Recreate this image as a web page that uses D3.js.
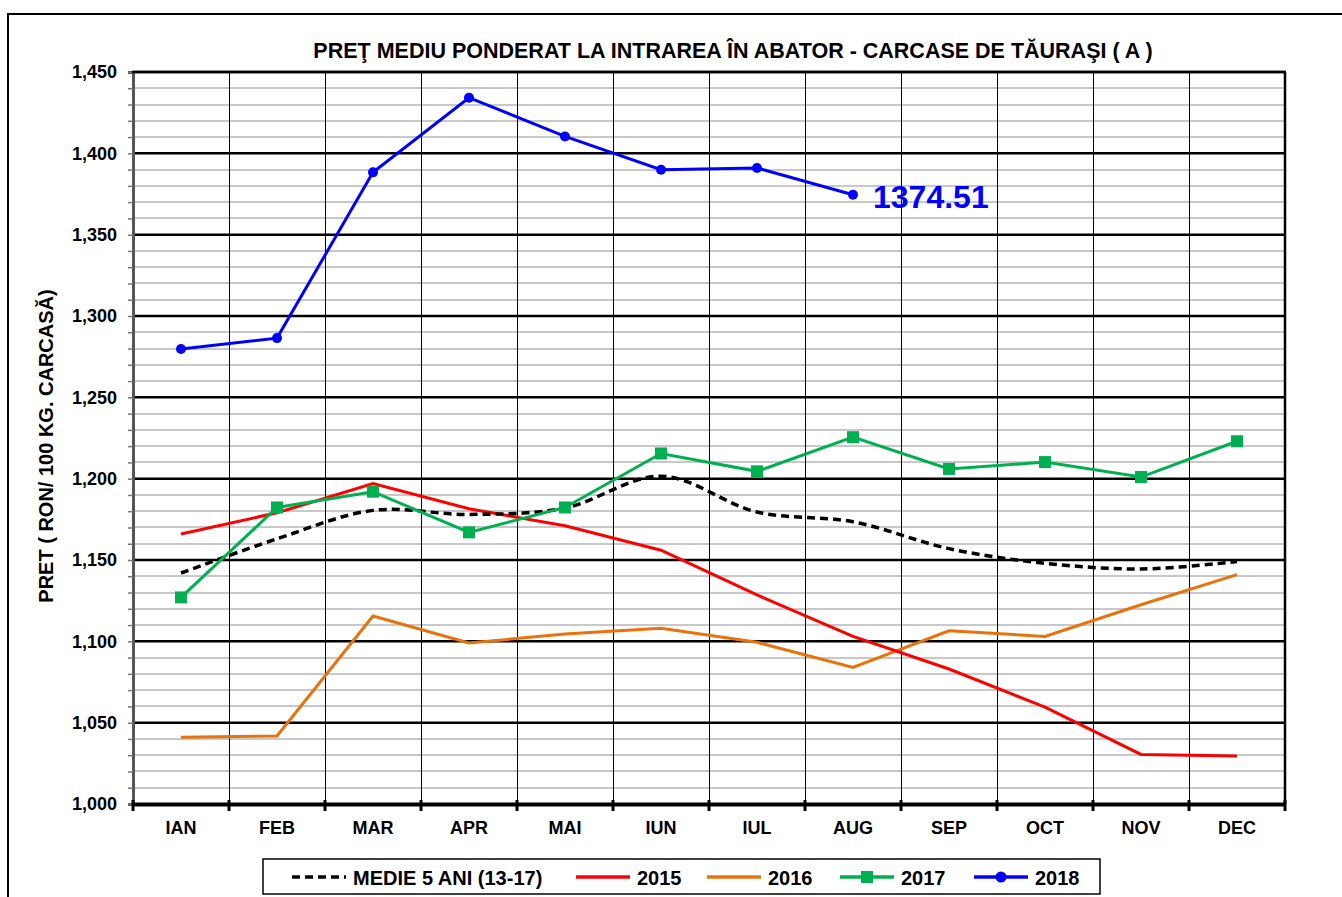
<!DOCTYPE html>
<html>
  <head>
    <meta charset="utf-8">
    <title>Pret mediu ponderat - carcase de taurasi</title>
    <script src="https://d3js.org/d3.v7.min.js"></script>
    <style>
        body { margin: 0; background: #fff; overflow: hidden; }
        svg { display: block; }
        text { font-family: "Liberation Sans", Arial, sans-serif; font-weight: bold; fill: #000; }
        .title { font-size: 21.5px; text-anchor: middle; }
        .legend text { font-size: 20px; }
        .grid line { shape-rendering: crispEdges; }
    </style>
  </head>
  <body>
    <svg width="1342" height="897"></svg>
    <script>
        // chart data
        const months = ["IAN", "FEB", "MAR", "APR", "MAI", "IUN", "IUL", "AUG", "SEP", "OCT", "NOV", "DEC"];
        const medie5Ani = [1142, 1163, 1180.5, 1178, 1182, 1201.5, 1179.5, 1173.5, 1157, 1148, 1144.5, 1149];
        const y2015 = [1166, 1179, 1197, 1181.5, 1171, 1156, 1128.5, 1103, 1083, 1059.5, 1030.5, 1029.5];
        const y2016 = [1041, 1041.8, 1115.6, 1099, 1104.5, 1108, 1099.4, 1084, 1106.5, 1103, 1122.5, 1141];
        const y2017 = [1127, 1182.3, 1192, 1167, 1182.3, 1215.5, 1204.5, 1225.5, 1206, 1210.2, 1201, 1223];
        const y2018 = [1279.7, 1286.4, 1388.3, 1434.2, 1410.4, 1389.9, 1391, 1374.51];
        const yTicks = [1000, 1050, 1100, 1150, 1200, 1250, 1300, 1350, 1400, 1450];
        const lastLabel = "1374.51";

        const svg = d3.select("svg");

        // outer frame (cut by the page edges like in the original)
        svg.append("rect")
            .attr("x", 8).attr("y", 14)
            .attr("width", 1360).attr("height", 900)
            .attr("fill", "none")
            .attr("stroke", "#000")
            .attr("stroke-width", 2);

        const plotL = 133, plotR = 1285, plotT = 72, plotB = 804;

        const x = d3.scaleBand()
            .domain(months)
            .range([plotL, plotR]);

        const y = d3.scaleLinear()
            .domain([1000, 1450])
            .range([plotB, plotT]);

        const cx = d => x(d) + x.bandwidth() / 2;

        // minor gridlines every 10
        const minor = d3.range(1010, 1450, 10).filter(v => v % 50 !== 0);
        svg.append("g")
            .attr("class", "grid")
            .selectAll("line")
            .data(minor)
            .enter().append("line")
            .attr("x1", plotL).attr("x2", plotR)
            .attr("y1", d => y(d)).attr("y2", d => y(d))
            .attr("stroke", "#c8c8c8")
            .attr("stroke-width", 2);

        // vertical lines between months
        svg.append("g")
            .attr("class", "grid")
            .selectAll("line")
            .data(months.slice(1))
            .enter().append("line")
            .attr("x1", d => x(d)).attr("x2", d => x(d))
            .attr("y1", plotT).attr("y2", plotB)
            .attr("stroke", "#000")
            .attr("stroke-width", 1);

        // major gridlines
        svg.append("g")
            .selectAll("line")
            .data(yTicks.slice(1))
            .enter().append("line")
            .attr("x1", plotL).attr("x2", plotR)
            .attr("y1", d => y(d)).attr("y2", d => y(d))
            .attr("stroke", "#000")
            .attr("stroke-width", 2.5);

        // right border of the plot
        svg.append("line")
            .attr("x1", plotR).attr("x2", plotR)
            .attr("y1", plotT).attr("y2", plotB)
            .attr("stroke", "#000")
            .attr("stroke-width", 2.5);

        // y axis
        const yAxis = d3.axisLeft(y)
            .tickValues(d3.range(1000, 1451, 10))
            .tickSize(5)
            .tickFormat(d => yTicks.includes(d) ? d3.format(",")(d) : "");
        const yg = svg.append("g")
            .attr("transform", `translate(${plotL},0)`)
            .call(yAxis);
        yg.select(".domain").attr("stroke", "#555").attr("stroke-width", 3);
        yg.selectAll(".tick line").attr("stroke", "#777").attr("stroke-width", 1.5);
        yg.selectAll(".tick text")
            .attr("x", -16)
            .style("font-family", "'Liberation Sans', Arial, sans-serif")
            .style("font-weight", "bold")
            .style("font-size", "18px");

        // x axis
        const xAxis = d3.axisBottom(x).tickSize(0).tickPadding(17);
        const xg = svg.append("g")
            .attr("transform", `translate(0,${plotB})`)
            .call(xAxis);
        xg.select(".domain").attr("stroke", "#000").attr("stroke-width", 4);
        xg.selectAll(".tick text")
            .style("font-family", "'Liberation Sans', Arial, sans-serif")
            .style("font-weight", "bold")
            .style("font-size", "18px");
        xg.selectAll(".sep")
            .data(months.concat(["end"]))
            .enter().append("line")
            .attr("class", "sep")
            .attr("x1", (d, i) => i < months.length ? x(d) : plotR)
            .attr("x2", (d, i) => i < months.length ? x(d) : plotR)
            .attr("y1", -4).attr("y2", 7)
            .attr("stroke", "#000")
            .attr("stroke-width", 3);

        // top border of the plot
        svg.append("line")
            .attr("x1", plotL - 1).attr("x2", plotR + 1)
            .attr("y1", plotT).attr("y2", plotT)
            .attr("stroke", "#000")
            .attr("stroke-width", 2.5);

        // lines
        const line = d3.line()
            .x((d, i) => cx(months[i]))
            .y(d => y(d));

        const smooth = d3.line()
            .x((d, i) => cx(months[i]))
            .y(d => y(d))
            .curve(d3.curveCatmullRom.alpha(0.5));

        svg.append("path")
            .datum(y2016)
            .attr("d", line)
            .attr("fill", "none")
            .attr("stroke", "#e8720c")
            .attr("stroke-width", 3);

        svg.append("path")
            .datum(y2015)
            .attr("d", line)
            .attr("fill", "none")
            .attr("stroke", "#ff0000")
            .attr("stroke-width", 3);

        svg.append("path")
            .datum(medie5Ani)
            .attr("d", smooth)
            .attr("fill", "none")
            .attr("stroke", "#000")
            .attr("stroke-width", 3.5)
            .attr("stroke-dasharray", "8,5");

        svg.append("path")
            .datum(y2017)
            .attr("d", line)
            .attr("fill", "none")
            .attr("stroke", "#00b050")
            .attr("stroke-width", 3);

        svg.selectAll(".sq17")
            .data(y2017)
            .enter().append("rect")
            .attr("class", "sq17")
            .attr("x", (d, i) => cx(months[i]) - 6)
            .attr("y", d => y(d) - 6)
            .attr("width", 12).attr("height", 12)
            .attr("fill", "#00b050");

        svg.append("path")
            .datum(y2018)
            .attr("d", line)
            .attr("fill", "none")
            .attr("stroke", "#0000ff")
            .attr("stroke-width", 3);

        svg.selectAll(".dot18")
            .data(y2018)
            .enter().append("circle")
            .attr("class", "dot18")
            .attr("cx", (d, i) => cx(months[i]))
            .attr("cy", d => y(d))
            .attr("r", 5)
            .attr("fill", "#0000ff");

        // last value label
        const lastI = y2018.length - 1;
        svg.append("text")
            .attr("x", cx(months[lastI]) + 20)
            .attr("y", y(y2018[lastI]) + 13)
            .style("font-size", "32px")
            .style("fill", "#0000ff")
            .text(lastLabel);

        // title
        svg.append("text")
            .attr("class", "title")
            .attr("x", 733)
            .attr("y", 58)
            .text("PREŢ MEDIU PONDERAT LA INTRAREA ÎN ABATOR - CARCASE DE TĂURAŞI ( A )");

        // y axis title
        svg.append("text")
            .attr("transform", "rotate(-90)")
            .attr("x", -446)
            .attr("y", 53)
            .style("font-size", "20px")
            .style("text-anchor", "middle")
            .text("PRET ( RON/ 100 KG. CARCASĂ)");

        // legend
        const legend = svg.append("g").attr("class", "legend");
        legend.append("rect")
            .attr("x", 263).attr("y", 859)
            .attr("width", 837).attr("height", 35)
            .attr("fill", "#fff")
            .attr("stroke", "#000")
            .attr("stroke-width", 1.5);

        const legendItems = [
            {name: "MEDIE 5 ANI (13-17)", color: "#000", dash: "8,5", marker: null, x: 292},
            {name: "2015", color: "#ff0000", dash: null, marker: null, x: 576},
            {name: "2016", color: "#e8720c", dash: null, marker: null, x: 707},
            {name: "2017", color: "#00b050", dash: null, marker: "square", x: 840},
            {name: "2018", color: "#0000ff", dash: null, marker: "circle", x: 974}
        ];
        const ly = 877;
        legendItems.forEach(it => {
            const g = legend.append("g").attr("transform", `translate(${it.x},${ly})`);
            g.append("line")
                .attr("x1", 0).attr("x2", 54)
                .attr("stroke", it.color)
                .attr("stroke-width", 3.5)
                .attr("stroke-dasharray", it.dash);
            if (it.marker === "square") {
                g.append("rect").attr("x", 21).attr("y", -6).attr("width", 12).attr("height", 12).attr("fill", it.color);
            } else if (it.marker === "circle") {
                g.append("circle").attr("cx", 27).attr("r", 5.5).attr("fill", it.color);
            }
            g.append("text")
                .attr("x", 61)
                .attr("y", 8)
                .text(it.name);
        });
    </script>
  </body>
</html>
